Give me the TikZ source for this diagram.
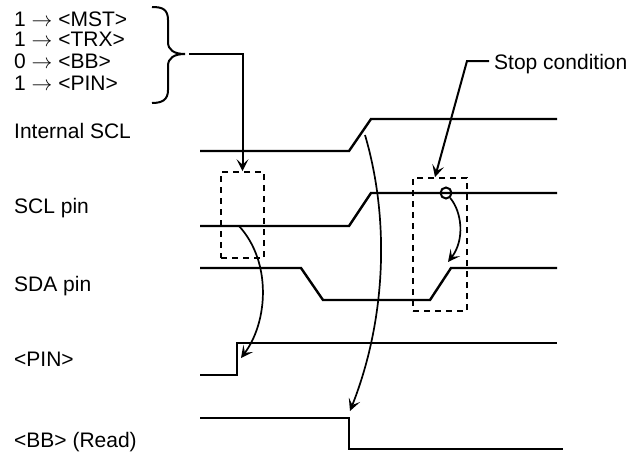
\documentclass[tikz,border=0pt]{standalone}
\usepackage{fontspec}
\setmainfont{Liberation Sans}
\usetikzlibrary{arrows.meta,positioning}
\tikzset{
  every node/.style={text=black},
  sigtext/.style={font=\fontsize{21}{24}\selectfont, anchor=base west, inner sep=0pt},
  trace/.style={draw=black, line width=2.4pt, line join=miter},
  leader/.style={-{Stealth[length=12pt,width=12pt,inset=5.5pt]}, draw=black, line width=2pt},
  dashbox/.style={draw=black, dashed, dash pattern=on 6pt off 5pt, line width=1.7pt, inner sep=0pt}
}
\begin{document}
\begin{tikzpicture}[x=1pt,y=-1pt]
\useasboundingbox (0,0) rectangle (628,455);

% Bit settings and their brace
\node[sigtext] (mst) at (14,26) {1 $\rightarrow$ <MST>};
\node[sigtext] (trx) at (14,46) {1 $\rightarrow$ <TRX>};
\node[sigtext] (bbset) at (14,68) {0 $\rightarrow$ <BB>};
\node[sigtext] (pinset) at (14,90) {1 $\rightarrow$ <PIN>};
\coordinate (braceTip) at (185,54);
\draw[line width=2pt] (152,7) .. controls (162,7) and (168,9) .. (168,20)
  -- (168,42) .. controls (168,50) and (174,54) .. (braceTip)
  .. controls (174,54) and (168,58) .. (168,66)
  -- (168,90) .. controls (168,100) and (162,103) .. (152,103);

% Signal names
\node[sigtext] (intscl) at (14,138) {Internal SCL};
\node[sigtext] (sclpin) at (14,213) {SCL pin};
\node[sigtext] (sdapin) at (14,291) {SDA pin};
\node[sigtext] (pinflag) at (14,366) {<PIN>};
\node[sigtext] (bbread) at (14,447) {<BB> (Read)};
\node[sigtext] (stoplabel) at (494,69) {Stop condition};

% Waveforms
\draw[trace] (200,151) -- (349,151) -- (371,119) -- (557,119);
\draw[trace] (200,226) -- (349,226) -- (371,193) -- (557,193);
\draw[trace] (200,268) -- (301,268) -- (323,300) -- (430,300) -- (451,268) -- (557,268);
\draw[trace] (200,375) -- (237,375) -- (237,343) -- (557,343);
\draw[trace] (200,418) -- (349,418) -- (349,449) -- (563,449);

% Marked regions
\node[dashbox, minimum width=43pt, minimum height=86pt] (startbox) at (242.5,215) {};
\node[dashbox, minimum width=54pt, minimum height=133pt] (stopbox) at (440,244.5) {};
\node[draw=black, circle, line width=2pt, minimum size=11pt, inner sep=0pt] (stopmark) at (446,193) {};

% Free ends of the connectors
\coordinate (braceOut) at (189,54);
\coordinate (stopOut) at (489,61);
\coordinate (stopBend) at (467,61);
\coordinate (sclFall) at (239,226);
\coordinate (pinRise) at (241,358);
\coordinate (sclRise) at (365,135);
\coordinate (bbFall) at (350,411);
\coordinate (sdaRise) at (448,262);

% Connectors
\draw[leader] (braceOut) -| (startbox.north);
\draw[leader] (stopOut) -- (stopBend) -- ([xshift=-5pt]stopbox.north);
\draw[leader, line width=1.7pt] (sclFall) .. controls (272,262) and (268,322) .. (pinRise);
\draw[leader, line width=1.7pt] (sclRise) .. controls (390,220) and (386,320) .. (bbFall);
\draw[leader, line width=1.7pt] (stopmark) .. controls (462,212) and (465,240) .. (sdaRise);

\end{tikzpicture}
\end{document}
